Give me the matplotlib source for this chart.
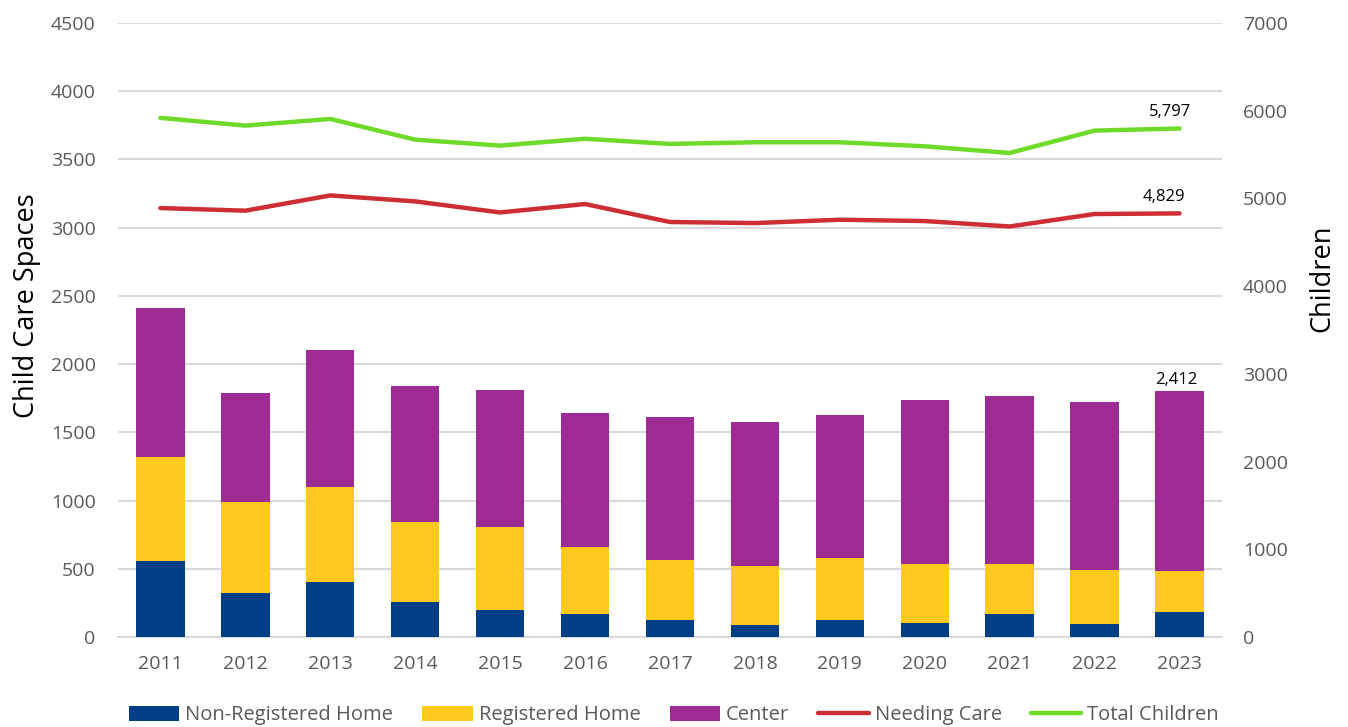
import matplotlib
matplotlib.use("Agg")
import matplotlib.pyplot as plt
import numpy as np

plt.rcParams['font.family'] = ['Open Sans', 'DejaVu Sans']

years = ["2011", "2012", "2013", "2014", "2015", "2016", "2017",
         "2018", "2019", "2020", "2021", "2022", "2023"]

# bar segments (left axis)
non_registered = [555, 322, 402, 254, 197, 171, 127, 91, 127, 102, 166, 98, 181]
registered = [764, 670, 699, 592, 610, 487, 434, 431, 451, 432, 368, 392, 301]
center = [1089, 799, 1000, 996, 1004, 982, 1052, 1053, 1050, 1201, 1231, 1231, 1324]

# lines (right axis)
needing_care = [4890, 4860, 5034, 4966, 4840, 4936, 4731, 4719, 4757, 4742, 4680, 4822, 4829]
total_children = [5918, 5830, 5906, 5670, 5602, 5680, 5621, 5640, 5640, 5594, 5518, 5773, 5797]

col_nonreg = "#003F87"
col_reg = "#FFCA1D"
col_center = "#9E2B93"
col_need = "#CC2E33"
col_total = "#6EDA2A"
tick_col = "#595959"
grid_col = "#D9D9D9"

fig = plt.figure(figsize=(13.48, 7.27), dpi=100)
ax = fig.add_axes([0.0875, 0.1238, 0.819, 0.8446])
ax2 = ax.twinx()

x = np.arange(len(years))
w = 0.57
nr = np.array(non_registered)
rg = np.array(registered)
ct = np.array(center)

ax.bar(x, nr, w, color=col_nonreg, label="Non-Registered Home", zorder=3)
ax.bar(x, rg, w, bottom=nr, color=col_reg, label="Registered Home", zorder=3)
ax.bar(x, ct, w, bottom=nr + rg, color=col_center, label="Center", zorder=3)

ax2.plot(x, needing_care, color=col_need, lw=3.2, solid_capstyle="round",
         solid_joinstyle="round", label="Needing Care")
ax2.plot(x, total_children, color=col_total, lw=3.2, solid_capstyle="round",
         solid_joinstyle="round", label="Total Children")

ax.set_xlim(-0.5, len(years) - 0.5)
ax.set_ylim(0, 4500)
ax.set_yticks(range(0, 4501, 500))
ax2.set_ylim(0, 7000)
ax2.set_yticks(range(0, 7001, 1000))

ax.set_xticks(x)
ax.set_xticklabels(years)
ax.grid(axis="y", color=grid_col, lw=1.5, zorder=0)
ax.set_axisbelow(True)

for a in (ax, ax2):
    for s in a.spines.values():
        s.set_visible(False)
    a.tick_params(length=0, labelsize=14, colors=tick_col)
ax.spines["bottom"].set_visible(True)
ax.spines["bottom"].set_color(grid_col)
ax.spines["bottom"].set_linewidth(1.5)
ax.tick_params(axis="y", pad=16)
ax.tick_params(axis="x", pad=13)
ax2.tick_params(axis="y", pad=15)

ax.set_ylabel("Child Care Spaces", fontsize=19.5, color="black")
ax.yaxis.set_label_coords(-0.07, 0.54)
ax2.set_ylabel("Children", fontsize=19.5, color="black")
ax2.yaxis.set_label_coords(1.078, 0.585)

# data labels on last points
ax2.annotate(f"{total_children[-1]:,}", (x[-1], total_children[-1]),
             xytext=(-7, 6), textcoords="offset points", ha="center",
             va="bottom", fontsize=12)
ax2.annotate(f"{needing_care[-1]:,}", (x[-1], needing_care[-1]),
             xytext=(-11, 6), textcoords="offset points", ha="center",
             va="bottom", fontsize=12)
ax.annotate("2,412", (x[-1], nr[-1] + rg[-1] + ct[-1]),
            xytext=(-2, 2), textcoords="offset points", ha="center",
            va="bottom", fontsize=12)

h1, l1 = ax.get_legend_handles_labels()
h2, l2 = ax2.get_legend_handles_labels()
leg = fig.legend(h1 + h2, l1 + l2, loc="center", bbox_to_anchor=(0.5, 0.016),
                 ncol=5, frameon=False, fontsize=14.5, handlelength=2.5,
                 handleheight=0.8, handletextpad=0.3, columnspacing=1.45)
for t in leg.get_texts():
    t.set_color(tick_col)

fig.savefig("out.png", dpi=100)
